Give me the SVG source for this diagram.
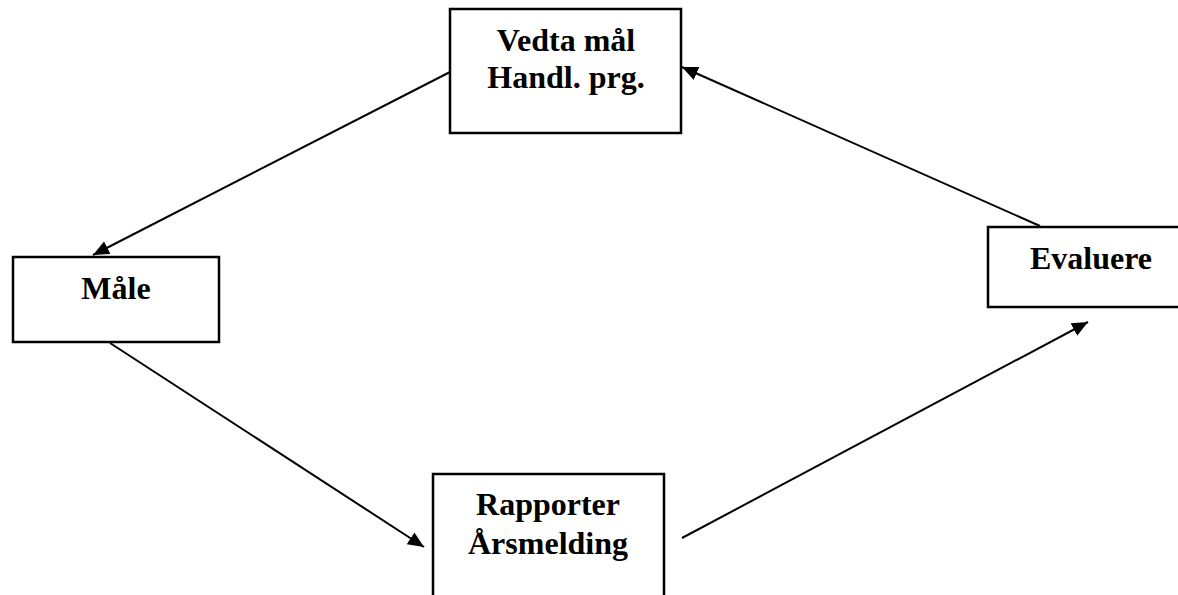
<svg xmlns="http://www.w3.org/2000/svg" width="1178" height="595" viewBox="0 0 1178 595">
<style>
.box{fill:#fff;stroke:#000;stroke-width:2.5}
.lbl{font-family:"Liberation Serif","Times New Roman",serif;font-weight:bold;font-size:32px;text-anchor:middle;fill:#000}
.con{stroke:#000;stroke-width:2;fill:none;marker-end:url(#arr)}
</style>
<defs>
<marker id="arr" markerUnits="userSpaceOnUse" markerWidth="18" markerHeight="16" refX="16" refY="7" orient="auto">
<path d="M0,0 L16,7 L0,14 z" fill="#000"/>
</marker>
</defs>
<rect width="1178" height="595" fill="#fff"/>
<g id="connectors">
<line class="con" x1="450" y1="72" x2="93" y2="255"/>
<line class="con" x1="1040" y1="226" x2="682" y2="67"/>
<line class="con" x1="110" y1="343" x2="424" y2="547"/>
<line class="con" x1="682" y1="538" x2="1088" y2="322"/>
</g>
<g id="vedta">
<rect class="box" x="450" y="9" width="231" height="124"/>
<text class="lbl" x="566" y="51">Vedta mål</text>
<text class="lbl" x="566" y="88">Handl. prg.</text>
</g>
<g id="male">
<rect class="box" x="13" y="257" width="206" height="85"/>
<text class="lbl" x="116" y="299">Måle</text>
</g>
<g id="evaluere">
<rect class="box" x="988" y="227" width="200" height="80"/>
<text class="lbl" x="1091" y="269">Evaluere</text>
</g>
<g id="rapporter">
<rect class="box" x="433" y="474" width="231" height="130"/>
<text class="lbl" x="548" y="515">Rapporter</text>
<text class="lbl" x="548" y="554">Årsmelding</text>
</g>
</svg>
